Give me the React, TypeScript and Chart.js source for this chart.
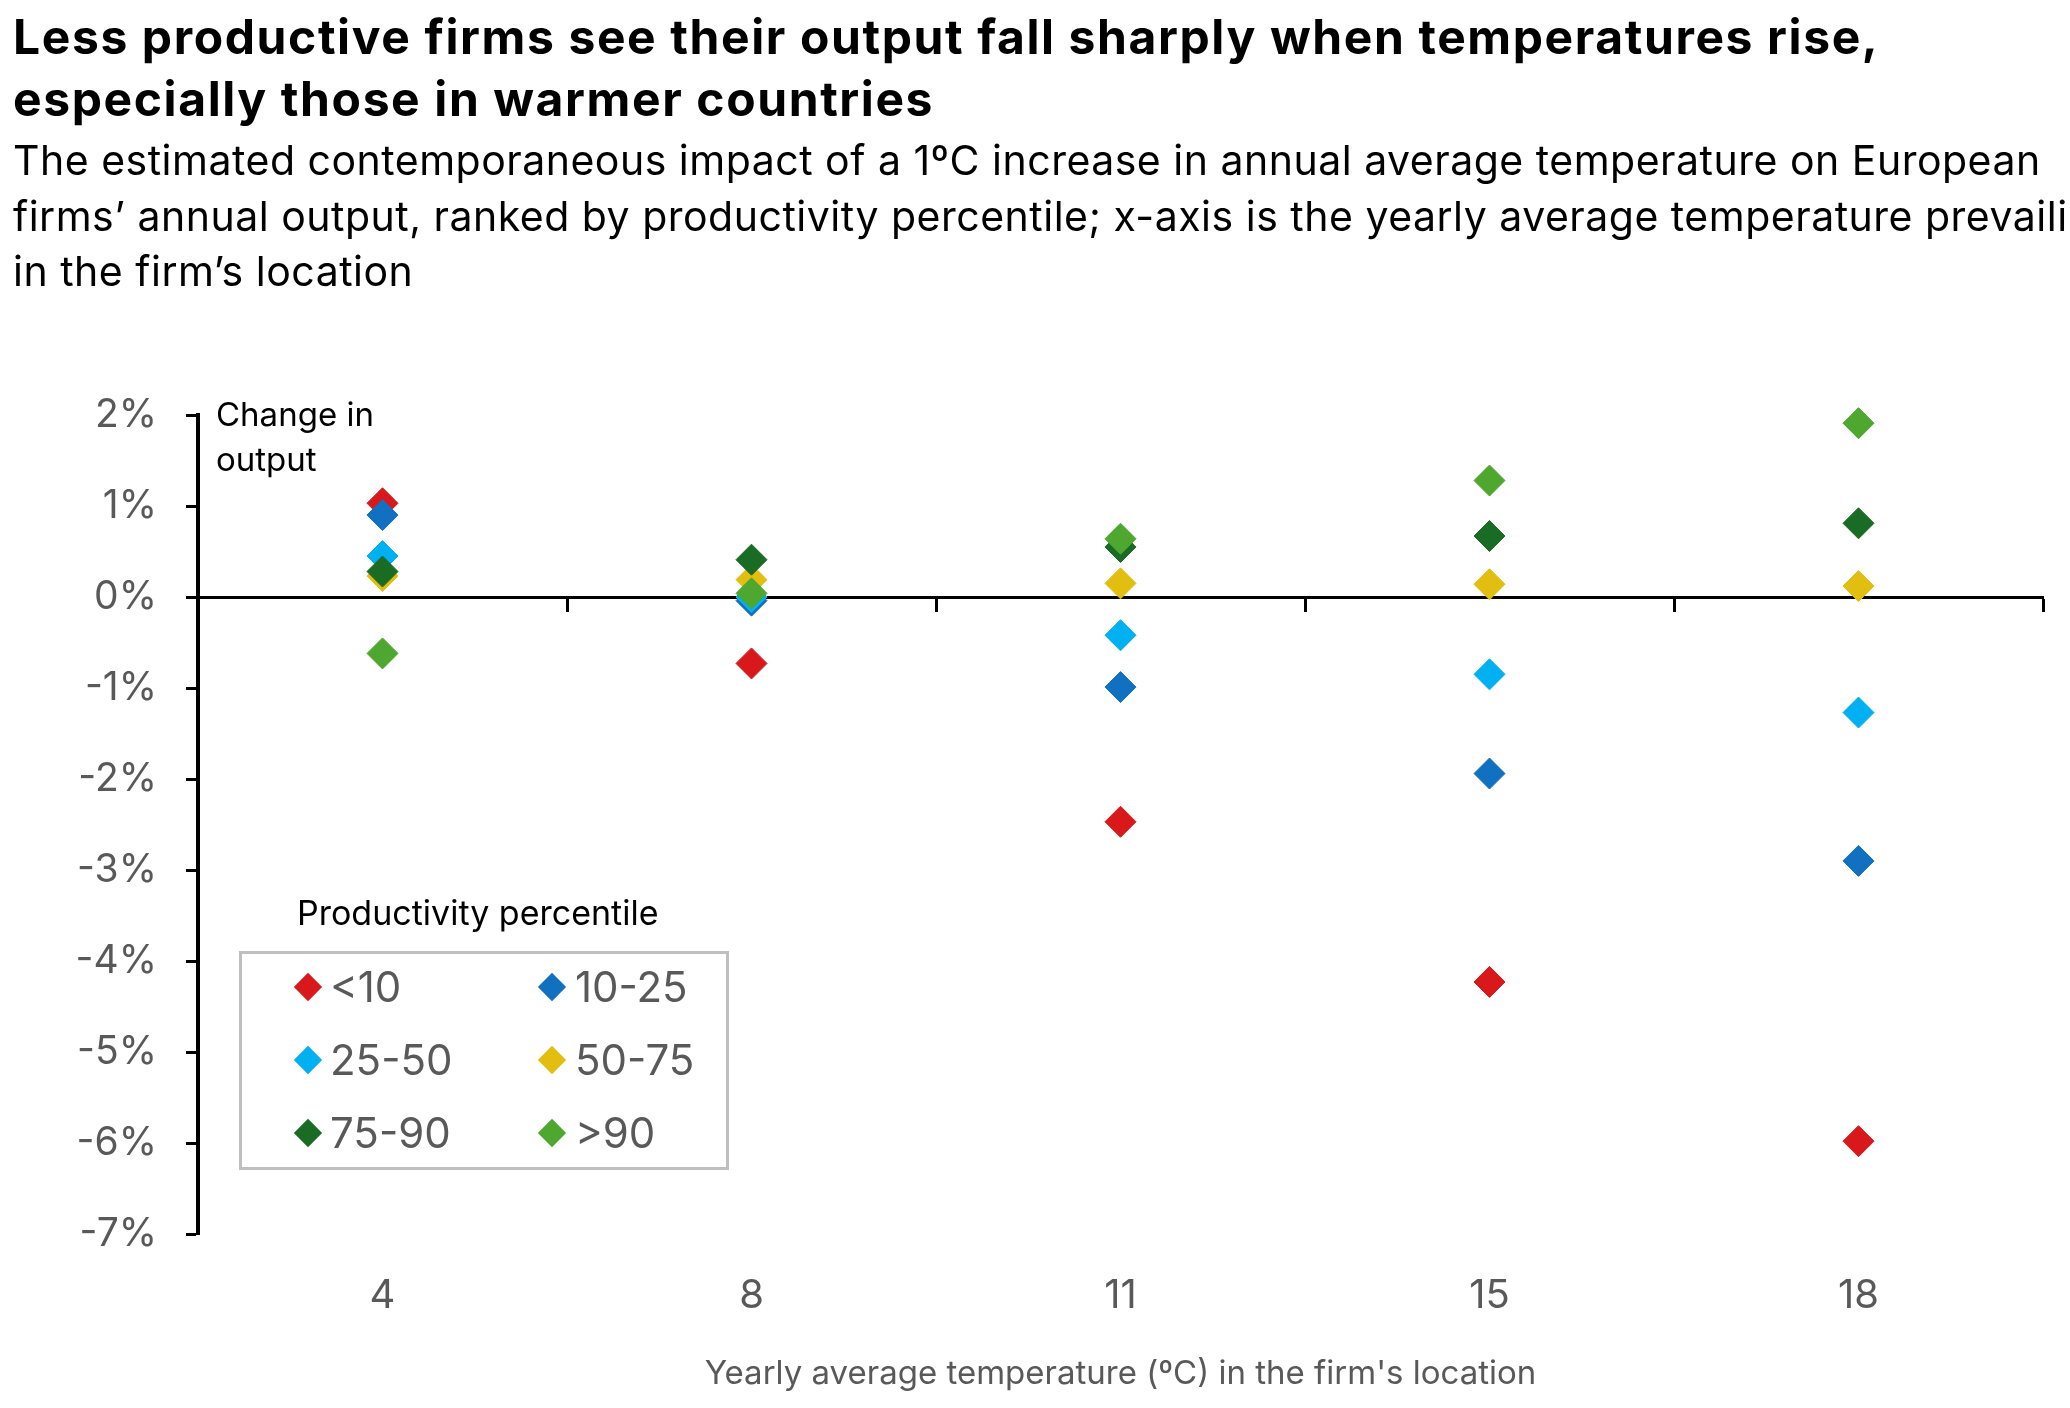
import { useEffect, useRef } from 'react'
import { Chart, registerables } from 'chart.js'

Chart.register(...registerables)

// x categories: yearly average temperature (°C)
const TEMPS = ['4', '8', '11', '15', '18']

// y axis range (%)
const Y_MIN = -7
const Y_MAX = 2
const Y_STEP = 1

// productivity percentile groups
const SERIES_NAMES = ['<10', '10-25', '25-50', '50-75', '75-90', '>90']
const SERIES_COLORS = ['#D9181C', '#1170BF', '#00B0F0', '#E2BE10', '#1A6B24', '#4EA72E']

// change in output (%) per temperature
const P_LT10 = [1.03, -0.73, -2.47, -4.23, -5.98]
const P_10_25 = [0.9, -0.04, -0.99, -1.94, -2.9]
const P_25_50 = [0.45, 0.0, -0.42, -0.85, -1.27]
const P_50_75 = [0.23, 0.19, 0.15, 0.14, 0.12]
const P_75_90 = [0.28, 0.41, 0.55, 0.67, 0.81]
const P_GT90 = [-0.62, 0.04, 0.64, 1.28, 1.91]

const SERIES_VALUES = [P_LT10, P_10_25, P_25_50, P_50_75, P_75_90, P_GT90]

const FONT = 'Inter, "Open Sans", sans-serif'
const GREY = '#595959'

const TITLE_LINES = [
    'Less productive firms see their output fall sharply when temperatures rise,',
    'especially those in warmer countries',
]
const SUBTITLE_LINES = [
    'The estimated contemporaneous impact of a 1\u00baC increase in annual average temperature on European',
    'firms\u2019 annual output, ranked by productivity percentile; x-axis is the yearly average temperature prevailing',
    'in the firm\u2019s location',
]
const X_TITLE = "Yearly average temperature (\u00baC) in the firm's location"

const App: React.FC = () => {
    const canvasRef = useRef<HTMLCanvasElement>(null)
    const chartRef = useRef<Chart | null>(null)

    useEffect(() => {
        if (!canvasRef.current) return
        if (chartRef.current) chartRef.current.destroy()

        chartRef.current = new Chart(canvasRef.current, {
            type: 'line',
            data: {
                labels: TEMPS,
                datasets: SERIES_NAMES.map((name, i) => ({
                    label: name,
                    data: SERIES_VALUES[i],
                    xAxisID: 'x',
                    yAxisID: 'y',
                    showLine: false,
                    clip: false,
                    order: SERIES_NAMES.length - i,
                    pointStyle: 'rectRot',
                    pointRadius: 15.5,
                    pointHoverRadius: 15.5,
                    pointBorderWidth: 1,
                    pointBackgroundColor: SERIES_COLORS[i],
                    pointBorderColor: SERIES_COLORS[i],
                    borderColor: SERIES_COLORS[i],
                    backgroundColor: SERIES_COLORS[i],
                })),
            },
            options: {
                animation: false,
                responsive: true,
                maintainAspectRatio: false,
                layout: { padding: { top: 415, right: 27, bottom: 0, left: 0 } },
                plugins: {
                    legend: { display: false },
                    tooltip: { enabled: false },
                },
                scales: {
                    x: {
                        type: 'category',
                        offset: true,
                        grid: { display: false, drawTicks: false },
                        border: { display: false },
                        ticks: {
                            color: GREY,
                            font: { family: FONT, size: 40 },
                            padding: 38,
                            maxRotation: 0,
                        },
                        title: {
                            display: true,
                            text: X_TITLE,
                            color: GREY,
                            font: { family: FONT, size: 33 },
                            padding: { top: 0, bottom: 14 },
                        },
                        afterFit: (s: any) => {
                            s.height = 174
                        },
                    },
                    // zero line with its category tick marks
                    x2: {
                        type: 'category',
                        offset: true,
                        position: { y: 0 },
                        grid: {
                            offset: true,
                            drawOnChartArea: false,
                            drawTicks: true,
                            tickLength: 13,
                            tickColor: '#000',
                            tickWidth: 3,
                            color: '#000',
                        },
                        border: { display: true, color: '#000', width: 3 },
                        ticks: { display: false },
                    },
                    y: {
                        type: 'linear',
                        min: Y_MIN,
                        max: Y_MAX,
                        ticks: {
                            stepSize: Y_STEP,
                            callback: (v: any) => `${v}%`,
                            color: GREY,
                            font: { family: FONT, size: 39 },
                            padding: 29,
                        },
                        grid: {
                            drawOnChartArea: false,
                            drawTicks: true,
                            tickLength: 12,
                            tickColor: '#000',
                            tickWidth: 3,
                        },
                        border: { display: true, color: '#000', width: 4 },
                        afterFit: (s: any) => {
                            s.width = 198
                        },
                    },
                },
            } as any,
        })

        return () => {
            chartRef.current?.destroy()
            chartRef.current = null
        }
    }, [])

    return (
        <div
            style={{
                position: 'fixed',
                left: 0,
                top: 0,
                width: 2070,
                height: 1408,
                overflow: 'hidden',
                background: '#fff',
                fontFamily: FONT,
            }}
        >
            <div style={{ position: 'absolute', left: 0, top: 0, width: 2070, height: 1408 }}>
                <canvas ref={canvasRef} />
            </div>

            <div
                style={{
                    position: 'absolute',
                    left: 13,
                    top: 6,
                    fontSize: 48,
                    letterSpacing: '1.6px',
                    lineHeight: '61.6px',
                    fontWeight: 700,
                    color: '#000',
                    whiteSpace: 'nowrap',
                }}
            >
                {TITLE_LINES.map((t) => (
                    <div key={t}>{t}</div>
                ))}
            </div>

            <div
                style={{
                    position: 'absolute',
                    left: 13,
                    top: 133,
                    fontSize: 41,
                    letterSpacing: '0.5px',
                    lineHeight: '55.5px',
                    color: '#000',
                    whiteSpace: 'nowrap',
                }}
            >
                {SUBTITLE_LINES.map((t) => (
                    <div key={t}>{t}</div>
                ))}
            </div>

            <div
                style={{
                    position: 'absolute',
                    left: 216,
                    top: 392,
                    fontSize: 33,
                    lineHeight: '45px',
                    color: '#000',
                }}
            >
                <div>Change in</div>
                <div>output</div>
            </div>

            <div
                style={{
                    position: 'absolute',
                    left: 297,
                    top: 893,
                    fontSize: 34,
                    lineHeight: '40px',
                    color: '#000',
                    whiteSpace: 'nowrap',
                }}
            >
                Productivity percentile
            </div>

            <div
                style={{
                    position: 'absolute',
                    left: 239,
                    top: 951,
                    width: 490,
                    height: 219,
                    boxSizing: 'border-box',
                    border: '3px solid #BFBFBF',
                }}
            >
                {SERIES_NAMES.map((name, i) => {
                    const col = i % 2
                    const row = Math.floor(i / 2)
                    const cy = 33 + row * 73
                    return (
                        <div key={name}>
                            <div
                                style={{
                                    position: 'absolute',
                                    left: (col ? 310 : 66) - 10,
                                    top: cy - 10,
                                    width: 20,
                                    height: 20,
                                    background: SERIES_COLORS[i],
                                    transform: 'rotate(45deg)',
                                }}
                            />
                            <div
                                style={{
                                    position: 'absolute',
                                    left: col ? 333 : 88,
                                    top: cy - 25,
                                    height: 50,
                                    lineHeight: '50px',
                                    fontSize: 42,
                                    color: GREY,
                                    whiteSpace: 'nowrap',
                                }}
                            >
                                {name}
                            </div>
                        </div>
                    )
                })}
            </div>
        </div>
    )
}

export default App
